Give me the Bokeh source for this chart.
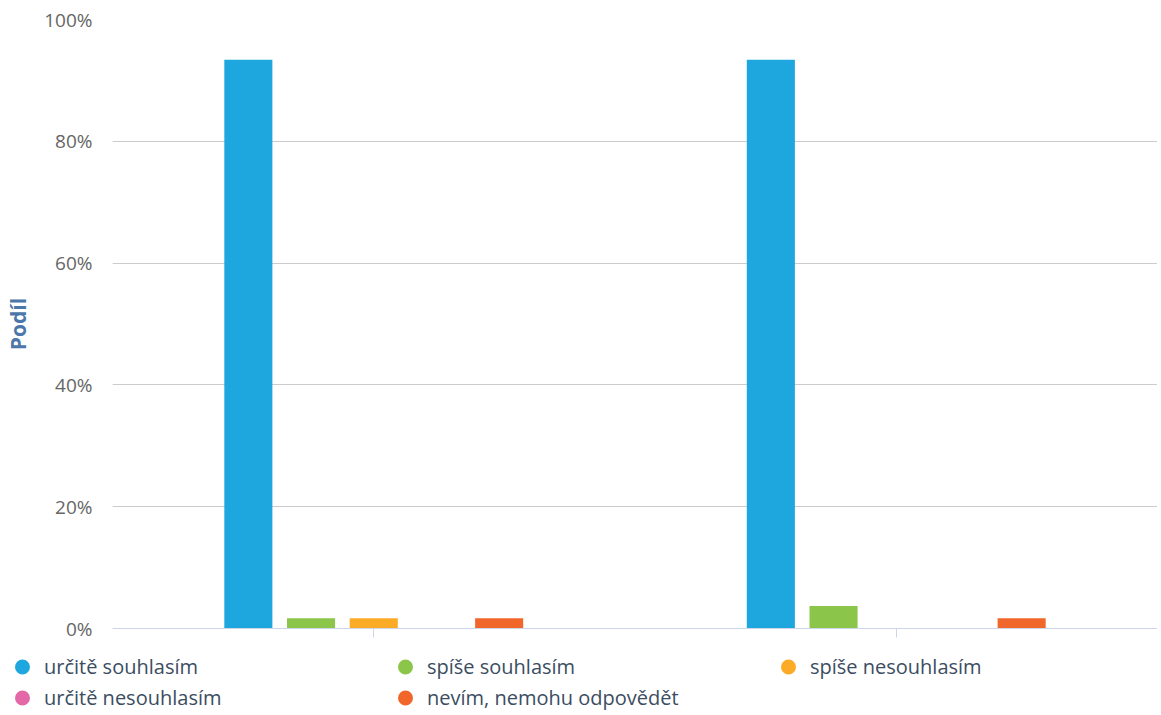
from bokeh.plotting import figure
from bokeh.models import (Range1d, FixedTicker, PrintfTickFormatter,
                          Legend, LegendItem, ColumnDataSource)
from bokeh.layouts import column
from bokeh.transform import dodge
from bokeh.embed import file_html
from bokeh.resources import INLINE

# ---- data ----
categories = ["skupina 1", "skupina 2"]
series_names = ["určitě souhlasím", "spíše souhlasím", "spíše nesouhlasím",
                "určitě nesouhlasím", "nevím, nemohu odpovědět"]
urcite_souhlasim = [93.4, 93.4]
spise_souhlasim = [1.7, 3.7]
spise_nesouhlasim = [1.7, 0.0]
urcite_nesouhlasim = [0.0, 0.0]
nevim = [1.7, 1.7]
y_ticks = [0, 20, 40, 60, 80, 100]
y_axis_title = "Podíl"

colors = ["#1ea7df", "#8bc64a", "#fcab26", "#e468a8", "#f1662a"]
offsets = [-0.24, -0.12, 0.0, 0.12, 0.24]
keys = ["s0", "s1", "s2", "s3", "s4"]
cat_pos = list(range(len(categories)))

source = ColumnDataSource(dict(pos=cat_pos, cat=categories, s0=urcite_souhlasim,
                               s1=spise_souhlasim, s2=spise_nesouhlasim,
                               s3=urcite_nesouhlasim, s4=nevim))

W = 1157
p = figure(x_range=Range1d(-0.5, len(categories) - 0.5), y_range=Range1d(0, 100),
           width=W, height=645, output_backend="svg", toolbar_location=None,
           min_border_left=112, min_border_right=0, min_border_top=19, min_border_bottom=17)
p.outline_line_color = None
p.frame_align = False

p.xgrid.grid_line_color = None
p.ygrid.ticker = FixedTicker(ticks=y_ticks)
p.ygrid.grid_line_color = "#cccccc"
p.ygrid.grid_line_width = 1

ya = p.yaxis[0]
ya.ticker = FixedTicker(ticks=y_ticks)
ya.formatter = PrintfTickFormatter(format="%d%%")
ya.axis_line_color = None
ya.major_tick_line_color = None
ya.minor_tick_line_color = None
ya.major_label_standoff = 14
ya.major_label_text_font = "Open Sans"
ya.major_label_text_font_size = "19px"
ya.major_label_text_color = "#666666"
ya.axis_label = y_axis_title
ya.axis_label_text_font = "Open Sans"
ya.axis_label_text_font_style = "bold"
ya.axis_label_text_font_size = "21px"
ya.axis_label_text_color = "#4d77a8"
ya.axis_label_standoff = 9

xa = p.xaxis[0]
xa.ticker = FixedTicker(ticks=cat_pos)
xa.major_label_overrides = {i: "" for i in cat_pos}
xa.axis_line_color = "#ccd6eb"
xa.major_tick_line_color = "#ccd6eb"
xa.major_tick_out = 9
xa.major_tick_in = 0
xa.minor_tick_line_color = None

for i, k in enumerate(keys):
    p.vbar(x=dodge("pos", offsets[i]), top=k, width=0.092,
           source=source, fill_color=colors[i], line_color=None)

# legend in its own strip below the chart
lg = figure(width=W, height=66, output_backend="svg", toolbar_location=None,
            x_range=Range1d(0, 1), y_range=Range1d(0, 1),
            x_axis_type=None, y_axis_type=None, min_border=0)
lg.outline_line_color = None
lg.frame_align = False
lg.xgrid.visible = False
lg.ygrid.visible = False
nan = float("nan")
items = []
for i, name in enumerate(series_names):
    lr = lg.scatter(x=[nan], y=[nan], marker="circle", size=12, fill_color=colors[i],
                    line_color=colors[i], line_width=3)
    items.append(LegendItem(label=name, renderers=[lr]))

legend = Legend(items=items, location=(7, -2), orientation="horizontal", ncols=3,
                glyph_width=30, glyph_height=31, label_standoff=7, label_width=346,
                label_height=20, spacing=0, padding=0, margin=0,
                border_line_color=None, background_fill_alpha=0,
                label_text_font="Open Sans", label_text_font_size="20px",
                label_text_color="#3b4d61")
lg.add_layout(legend, "center")

layout = column(p, lg, spacing=0)
open("out.html", "w").write(file_html(layout, INLINE))
